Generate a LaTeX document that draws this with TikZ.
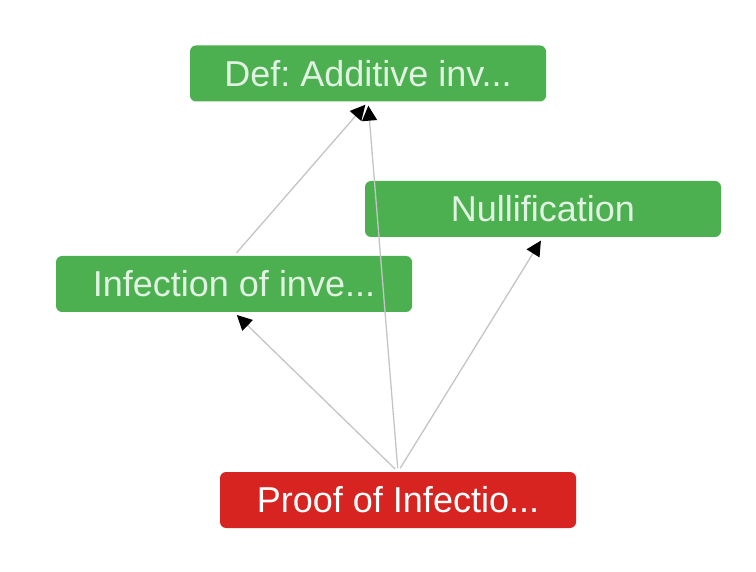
\documentclass[tikz,border=0pt]{standalone}
\usepackage{fontspec}
\setmainfont{Liberation Sans}
\usetikzlibrary{arrows.meta}
\definecolor{boxgreen}{RGB}{77,176,80}
\definecolor{boxred}{RGB}{216,36,32}
\definecolor{greentext}{RGB}{226,242,226}
\definecolor{edgegray}{RGB}{196,196,196}
\frenchspacing
\tikzset{
 box/.style={rounded corners=6pt,minimum width=356pt,minimum height=56pt,inner sep=0pt,font=\fontsize{36}{42}\selectfont},
 goodbox/.style={box,fill=boxgreen,text=greentext},
 proofbox/.style={box,fill=boxred,text=white},
 edge/.style={draw=edgegray,line width=1.3pt,-{Triangle[length=15pt,width=15pt,fill=black,color=black]},shorten <=4pt,shorten >=4pt}
}
\begin{document}
\begin{tikzpicture}[x=1pt,y=-1pt]
 \useasboundingbox (0,0) rectangle (756,572);
 \node[goodbox] (def) at (368,73.5) {Def: Additive inv...};
 \node[goodbox] (null) at (543,209) {Nullification};
 \node[goodbox] (inf) at (234,284) {Infection of inve...};
 \node[proofbox] (proof) at (398,500) {Proof of Infectio...};
 \draw[edge] (proof.north) -- (inf.south);
 \draw[edge] (proof.north) -- (null.south);
 \draw[edge] (proof.north) -- (def.south);
 \draw[edge] (inf.north) -- (def.south);
\end{tikzpicture}
\end{document}
